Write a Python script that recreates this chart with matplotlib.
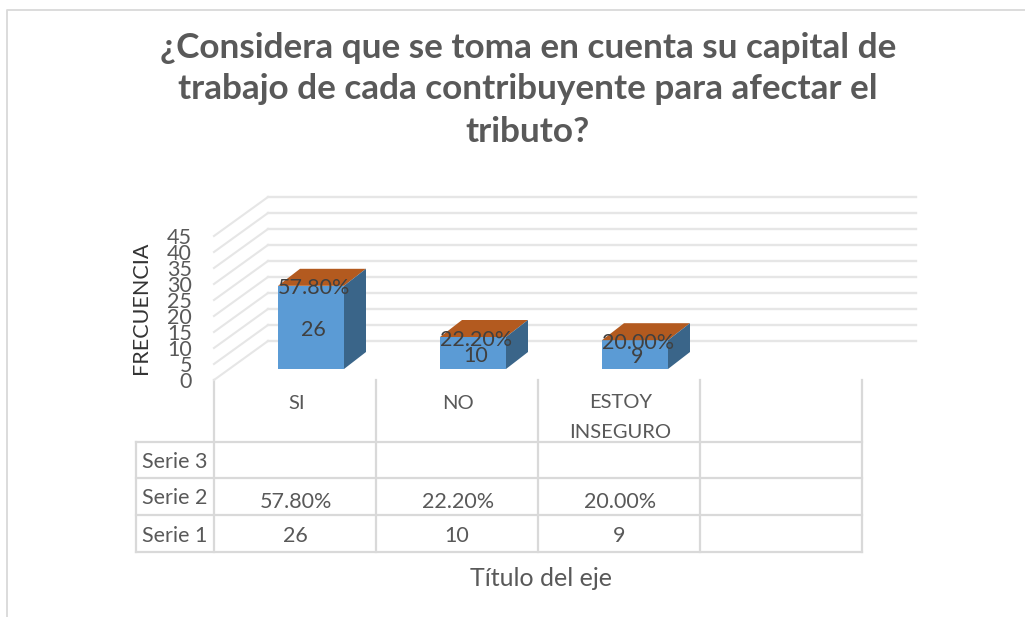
import matplotlib
matplotlib.use("Agg")
import matplotlib.pyplot as plt
from matplotlib.patches import Polygon
from matplotlib.transforms import Affine2D

categories = ["SI", "NO", "ESTOY\nINSEGURO", ""]
serie1 = [26, 10, 9]
serie2 = [57.80, 22.20, 20.00]
yticks = [0, 5, 10, 15, 20, 25, 30, 35, 40, 45]
row_names = ["Serie 3", "Serie 2", "Serie 1"]
title_lines = ["¿Considera que se toma en cuenta su capital de",
               "trabajo de cada contribuyente para afectar el",
               "tributo?"]
ylabel = "FRECUENCIA"
xlabel = "Título del eje"

W, H = 1025, 617
FONT = "Lato"
TXT = "#595959"
DARK = "#404040"
GRID = "#e6e6e6"
BORDER = "#d9d9d9"
fig = plt.figure(figsize=(W / 100, H / 100), dpi=100, facecolor="white")

# overlay in pixel coordinates for the chart frame and table
ov = fig.add_axes([0, 0, 1, 1])
ov.set_xlim(0, W); ov.set_ylim(H, 0); ov.axis("off")

# front plane of the 3D plot: x=0..4 categories, y=0..45
X0, X1, Y0, Y1 = 214, 862, 380, 236
ax = fig.add_axes([X0 / W, 1 - Y0 / H, (X1 - X0) / W, (Y0 - Y1) / H])
ax.set_xlim(0, 4); ax.set_ylim(0, 45); ax.axis("off"); ax.patch.set_alpha(0)

def shifted(dx, dy):
    return ax.transData + Affine2D().translate(dx, dy)

# walls
BACK_DX, BACK_DY = 54, 39
back = shifted(BACK_DX, BACK_DY)
tick_tr = shifted(-22, -2.5)
for v in yticks:
    ax.plot([0, 4], [v, v], transform=back, color=GRID, lw=1.7, clip_on=False, zorder=1)
    p0 = ax.transData.transform((0, v))
    p1 = back.transform((0, v))
    ax.plot([p0[0], p1[0]], [p0[1], p1[1]], transform=None, color=GRID, lw=1.5, clip_on=False, zorder=1)
    ax.text(0, v, str(v), transform=tick_tr, ha="right", va="center", fontsize=15.5, color=TXT,
            family=FONT, clip_on=False)

# bars
BAR_DX, BAR_DY = 16, 11
DEPTH_X, DEPTH_Y = 22, 17
BLUE, ORANGE, SIDE = "#5b9bd5", "#b35a1f", "#3a6589"
front = shifted(BAR_DX, BAR_DY)
label_tr = shifted(BAR_DX + 1, BAR_DY - 2.5)
bar_w = 66 / 162
for i, (a, b) in enumerate(zip(serie1, serie2)):
    xc = i + 0.5
    l, r = xc - bar_w / 2, xc + bar_w / 2
    ax.bar(xc, a, width=bar_w, color=BLUE, transform=front, clip_on=False, zorder=3)
    pts = front.transform([(l, a), (r, a), (r, 0)])
    (lx, ty), (rx, _), (_, by) = pts
    ax.add_patch(Polygon([(lx, ty), (rx, ty), (rx + DEPTH_X, ty + DEPTH_Y), (lx + DEPTH_X, ty + DEPTH_Y)],
                         closed=True, transform=None, fc=ORANGE, ec="none", clip_on=False, zorder=3))
    ax.add_patch(Polygon([(rx, ty), (rx + DEPTH_X, ty + DEPTH_Y), (rx + DEPTH_X, by + DEPTH_Y), (rx, by)],
                         closed=True, transform=None, fc=SIDE, ec="none", clip_on=False, zorder=3))
    ax.text(xc + 0.01, a / 2, str(a), transform=label_tr, ha="center", va="center", fontsize=15.5,
            color=DARK, family=FONT, zorder=5, clip_on=False)
    ax.text(xc + 0.01, a, f"{b:.2f}%", transform=label_tr, ha="center", va="center", fontsize=15.5,
            color=DARK, family=FONT, zorder=5, clip_on=False)

# frame: top and left edges only are visible
ov.plot([7, 7, 1025], [617, 10, 10], color=BORDER, lw=1.3, clip_on=False)

# table
cols = [214, 376, 538, 700, 862]
rows = [442, 478, 515, 552]
for x in cols:
    ov.plot([x, x], [380, rows[-1]], color=BORDER, lw=1.6)
ov.plot([136, 136], [rows[0], rows[-1]], color=BORDER, lw=1.6)
for y in rows:
    ov.plot([136, 862], [y, y], color=BORDER, lw=1.6)
TS = 15.5
CS = 14.5
for i, c in enumerate(categories):
    xc = (cols[i] + cols[i + 1]) / 2
    if "\n" in c:
        first, second = c.split("\n")
        ov.text(xc + 2, 403, first, ha="center", va="center", fontsize=CS, color=TXT, family=FONT)
        ov.text(xc + 1.5, 432, second, ha="center", va="center", fontsize=CS, color=TXT, family=FONT)
    elif c:
        ov.text(xc + 1.5, 403.5, c, ha="center", va="center", fontsize=CS, color=TXT, family=FONT)
for name, y0, y1 in zip(row_names, rows[:-1], rows[1:]):
    ov.text(175, (y0 + y1) / 2 + 2, name, ha="center", va="center", fontsize=TS, color=TXT, family=FONT)
for i, (a, b) in enumerate(zip(serie1, serie2)):
    xc = (cols[i] + cols[i + 1]) / 2
    ov.text(xc + 1, 502, f"{b:.2f}%", ha="center", va="center", fontsize=TS, color=TXT, family=FONT)
    ov.text(xc, 536, str(a), ha="center", va="center", fontsize=TS, color=TXT, family=FONT)

ov.text(541, 578, xlabel, ha="center", va="center", fontsize=18, color=TXT, family=FONT)
ov.text(141, 308, ylabel, ha="center", va="center", rotation=90, fontsize=15.5, color="#333333", family=FONT)
for line, y in zip(title_lines, [48, 89, 132]):
    ov.text(528, y, line, ha="center", va="center", fontsize=25.3, fontweight="bold", color=TXT, family=FONT)

fig.savefig("out.png", dpi=100, facecolor="white")
